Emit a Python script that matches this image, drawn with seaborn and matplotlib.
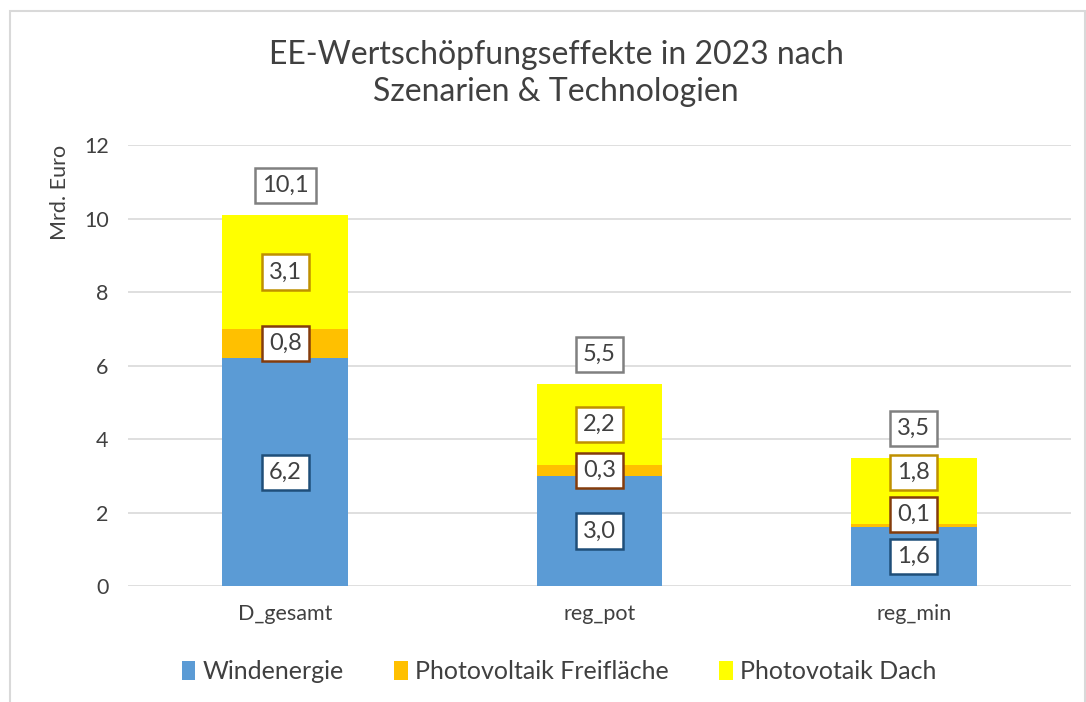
import numpy as np
import pandas as pd
import seaborn as sns
import matplotlib.pyplot as plt
from matplotlib.patches import Patch, Rectangle

# Daten aus dem Diagramm
szenarien = ['D_gesamt', 'reg_pot', 'reg_min']
windenergie = [6.2, 3.0, 1.6]
pv_freiflaeche = [0.8, 0.3, 0.1]
pv_dach = [3.1, 2.2, 1.8]
gesamt = [10.1, 5.5, 3.5]

serien = ['Windenergie', 'Photovoltaik Freifläche', 'Photovotaik Dach']
farben = ['#5B9BD5', '#FFC000', '#FFFF00']
randfarben = ['#1F4E79', '#843C0C', '#BF9000']

sns.set_theme(style='whitegrid')
plt.rcParams['font.family'] = ['Lato', 'DejaVu Sans']

df = pd.DataFrame({
    'Szenario': szenarien,
    'Wind': windenergie,
    'Frei': pv_freiflaeche,
    'Dach': pv_dach,
})
# kumulierte Werte fuer gestapelte Balken
df['c_wind'] = df['Wind']
df['c_frei'] = df['Wind'] + df['Frei']
df['c_dach'] = df['c_frei'] + df['Dach']

fig = plt.figure(figsize=(10.86, 7.02), dpi=100)
ax = fig.add_axes([0.118, 0.165, 0.868, 0.628])

for col, farbe in zip(['c_dach', 'c_frei', 'c_wind'], farben[::-1]):
    sns.barplot(data=df, x='Szenario', y=col, color=farbe, width=0.4,
                saturation=1, ax=ax, edgecolor='none', linewidth=0)

ax.set_ylim(0, 12)
ax.set_xlim(-0.5, 2.5)
ax.set_yticks(range(0, 13, 2))
ax.grid(axis='y', color='#D9D9D9', linewidth=1.2)
ax.grid(axis='x', visible=False)
ax.set_axisbelow(True)
for s in ax.spines.values():
    s.set_visible(False)
ax.tick_params(axis='y', length=6, color='#D9D9D9', labelsize=15.5, labelcolor='#404040', pad=8)
ax.tick_params(axis='x', length=0, labelsize=15.5, labelcolor='#404040', pad=13)
ax.set_xlabel('')
ax.set_ylabel('Mrd. Euro', fontsize=15.5, color='#404040', loc='top', labelpad=10)

# Datenbeschriftungen (mit Abstand, damit sie sich nicht ueberlappen)
min_abstand = 1.15
for i in range(len(szenarien)):
    werte = [windenergie[i], pv_freiflaeche[i], pv_dach[i]]
    unten = 0
    pos = []
    for w in werte:
        p = unten + w / 2
        if pos and p < pos[-1] + min_abstand:
            p = pos[-1] + min_abstand
        pos.append(p)
        unten += w
    p_ges = max(gesamt[i] + 0.8, pos[-1] + min_abstand)
    for w, p, rf in zip(werte, pos, randfarben):
        ax.text(i, p, f'{w:.1f}'.replace('.', ','), ha='center', va='center',
                fontsize=17, color='#404040',
                bbox=dict(boxstyle='square,pad=0.3', fc='white', ec=rf, lw=1.8))
    ax.text(i, p_ges, f'{gesamt[i]:.1f}'.replace('.', ','), ha='center', va='center',
            fontsize=17, color='#404040',
            bbox=dict(boxstyle='square,pad=0.3', fc='white', ec='#808080', lw=1.8))

fig.suptitle('EE-Wertschöpfungseffekte in 2023 nach\nSzenarien & Technologien',
             x=0.512, y=0.895, va='center', fontsize=23, color='#404040', linespacing=1.3)

handles = [Patch(facecolor=f, edgecolor='none', label=s) for f, s in zip(farben, serien)]
fig.legend(handles=handles, loc='center', bbox_to_anchor=(0.515, 0.043), ncol=3,
           frameon=False, fontsize=18, handlelength=0.55, handleheight=0.8,
           handletextpad=0.3, columnspacing=2.0, labelcolor='#404040')

fig.patches.append(Rectangle((0.009, -0.01), 0.99, 0.995, transform=fig.transFigure,
                             fill=False, edgecolor='#D9D9D9', linewidth=1.5))

fig.savefig('out.png', dpi=100, facecolor='white')
